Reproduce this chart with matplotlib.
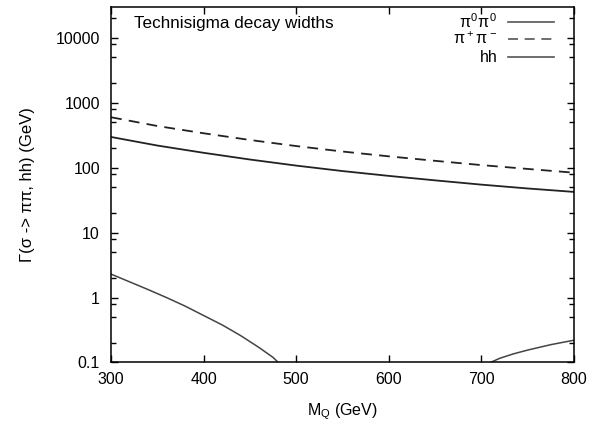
import matplotlib
matplotlib.use('Agg')
import matplotlib.pyplot as plt
from matplotlib.ticker import FixedLocator, NullFormatter

# Werte
mq = [300, 350, 400, 450, 500, 550, 600, 650, 700, 750, 800]
gamma_pi0pi0 = [298, 220, 170, 134, 108, 89, 75, 64, 55, 48, 42.5]
gamma_pipm = [600, 440, 340, 268, 216, 178, 150, 128, 110, 96, 84]

mq_hh_a = [300, 320, 340, 360, 380, 400, 420, 440, 460, 475, 490]
gamma_hh_a = [2.3, 1.75, 1.33, 1.0, 0.74, 0.53, 0.38, 0.26, 0.17, 0.12, 0.075]
mq_hh_b = [700, 710, 720, 735, 750, 775, 800]
gamma_hh_b = [0.07, 0.1, 0.116, 0.136, 0.155, 0.188, 0.22]

labels = [r'$\pi^0\pi^0$', r'$\pi^+\pi^-$', 'hh']
x_ticks = [300, 400, 500, 600, 700, 800]
y_ticks = [0.1, 1, 10, 100, 1000, 10000]
y_tick_labels = ['0.1', '1', '10', '100', '1000', '10000']

plt.rcParams['font.family'] = ['Liberation Sans', 'DejaVu Sans']
plt.rcParams['mathtext.fontset'] = 'custom'
plt.rcParams['mathtext.rm'] = 'Liberation Sans'
plt.rcParams['mathtext.it'] = 'Liberation Sans'

fig = plt.figure(figsize=(5.89, 4.22), dpi=100)
ax = fig.add_axes([0.1885, 0.141, 0.7855, 0.8425])

lc = '#222222'
ax.plot(mq, gamma_pi0pi0, color=lc, lw=1.3)
ax.plot(mq, gamma_pipm, color=lc, lw=1.3, dashes=(6, 4))
ax.plot(mq_hh_a, gamma_hh_a, color='#444444', lw=1.1)
ax.plot(mq_hh_b, gamma_hh_b, color='#444444', lw=1.1)

ax.set_yscale('log')
ax.set_xlim(300, 800)
ax.set_ylim(0.1, 30000)

ax.set_xticks(x_ticks)
ax.set_xticklabels([str(t) for t in x_ticks])
ax.set_yticks(y_ticks)
ax.set_yticklabels(y_tick_labels)
minor = [m * 10.0 ** k for k in range(-2, 5) for m in (2, 5, 8)]
ax.yaxis.set_minor_locator(FixedLocator(minor))
ax.yaxis.set_minor_formatter(NullFormatter())
ax.tick_params(which='both', direction='in', top=True, right=True, labelsize=11.5)
ax.tick_params(which='major', length=5, width=1)
ax.tick_params(which='minor', length=3.5, width=1)
ax.tick_params(axis='x', pad=7)
ax.tick_params(axis='y', pad=8)
for s in ax.spines.values():
    s.set_linewidth(1.1)

ax.set_xlabel(r'M$_\mathrm{Q}$ (GeV)', fontsize=11.5, labelpad=10)
ax.set_ylabel('Γ(σ -> ππ, hh) (GeV)', fontsize=12, labelpad=15)

ax.text(0.05, 0.975, 'Technisigma decay widths', transform=ax.transAxes,
        fontsize=12.3, va='top', ha='left')

# Legende im gnuplot-Stil: Text rechtsbündig, Linie rechts daneben
leg_y = [0.958, 0.910, 0.859]
leg_dash = [None, (6, 4), None]
for lab, yy, d in zip(labels, leg_y, leg_dash):
    ax.text(0.835, yy, lab, transform=ax.transAxes, fontsize=11.5,
            ha='right', va='center')
    ln, = ax.plot([0.857, 0.957], [yy, yy], transform=ax.transAxes,
                  color='#555555', lw=1.2, clip_on=False)
    if d:
        ln.set_dashes(d)

fig.savefig('out.png', dpi=100)
